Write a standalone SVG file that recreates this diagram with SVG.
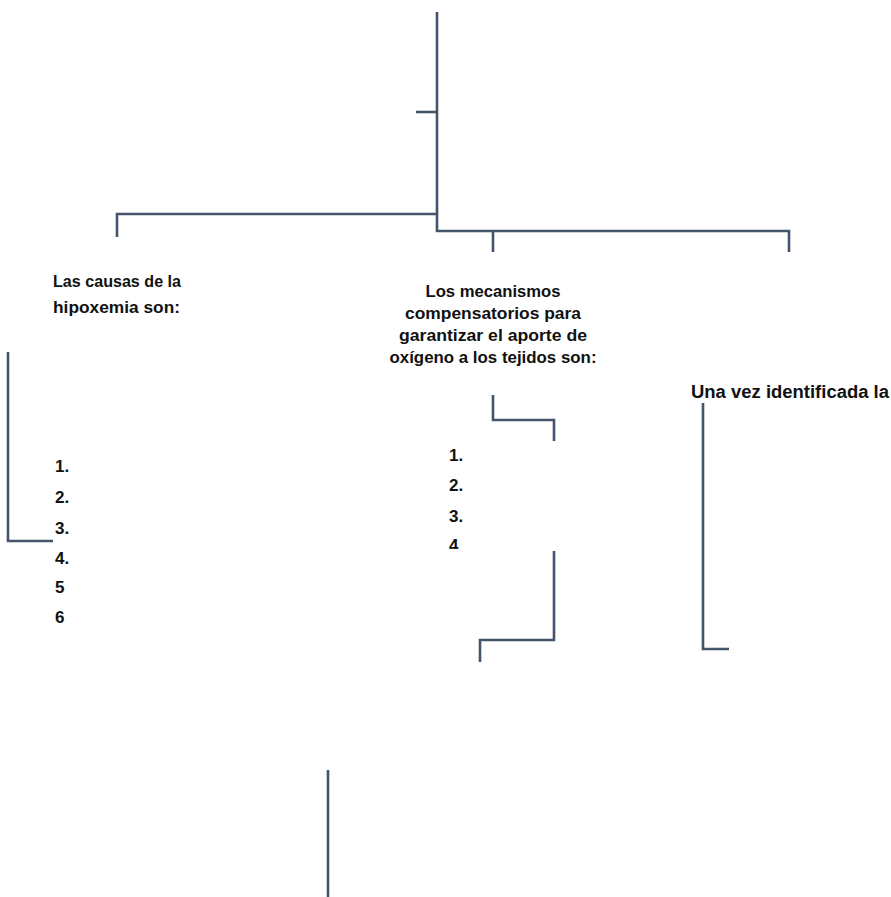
<svg xmlns="http://www.w3.org/2000/svg" width="891" height="897" viewBox="0 0 891 897">
<style>
  .ln { fill: none; stroke: #44546A; stroke-width: 2.6; stroke-linecap: butt; stroke-linejoin: miter; }
  .t { font-family: "Liberation Sans", Arial, sans-serif; font-weight: bold; font-size: 16.5px; fill: #111; }
  .num { font-size: 17px; }
  .big { font-size: 17.5px; }
</style>
<defs>
  <clipPath id="cut4"><rect x="0" y="0" width="891" height="549"/></clipPath>
</defs>
<rect width="891" height="897" fill="#fff"/>
<g id="connectors">
  <path class="ln" d="M437 12 V231 H789 V252"/>
  <path class="ln" d="M416 112 H437"/>
  <path class="ln" d="M117 237 V214 H437"/>
  <path class="ln" d="M493 231 V252"/>
  <path class="ln" d="M8 352 V541 H53"/>
  <path class="ln" d="M493 395 V420 H554 V441"/>
  <path class="ln" d="M554 551 V640 H480 V662"/>
  <path class="ln" d="M703 403 V649 H729"/>
  <path class="ln" d="M328 770 V897"/>
</g>
<g id="causas">
  <text class="t" x="53" y="287" textLength="128" lengthAdjust="spacingAndGlyphs">Las causas de la</text>
  <text class="t" x="53" y="313" textLength="127" lengthAdjust="spacingAndGlyphs">hipoxemia son:</text>
  <text class="t num" x="55" y="472">1.</text>
  <text class="t num" x="55" y="503">2.</text>
  <text class="t num" x="55" y="534">3.</text>
  <text class="t num" x="55" y="564">4.</text>
  <text class="t num" x="55" y="593">5</text>
  <text class="t num" x="55" y="623">6</text>
</g>
<g id="mecanismos">
  <text class="t" x="493" y="297" text-anchor="middle" textLength="135" lengthAdjust="spacingAndGlyphs">Los mecanismos</text>
  <text class="t" x="493" y="319" text-anchor="middle" textLength="176" lengthAdjust="spacingAndGlyphs">compensatorios para</text>
  <text class="t" x="493" y="341" text-anchor="middle" textLength="188" lengthAdjust="spacingAndGlyphs">garantizar el aporte de</text>
  <text class="t" x="493" y="363" text-anchor="middle" textLength="207" lengthAdjust="spacingAndGlyphs">oxígeno a los tejidos son:</text>
  <text class="t num" x="449" y="461">1.</text>
  <text class="t num" x="449" y="491">2.</text>
  <text class="t num" x="449" y="522">3.</text>
  <text class="t num" x="449" y="551" clip-path="url(#cut4)">4</text>
</g>
<g id="identificada">
  <text class="t big" x="691" y="398" textLength="198" lengthAdjust="spacingAndGlyphs">Una vez identificada la</text>
</g>
</svg>
